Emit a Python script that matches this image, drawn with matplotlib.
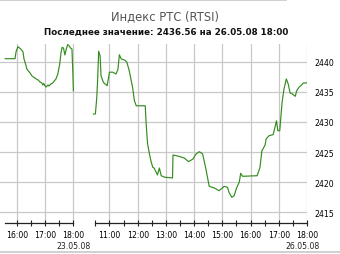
import matplotlib
matplotlib.use('Agg')
import matplotlib.pyplot as plt
from matplotlib.lines import Line2D

# 23.05.08 session
day1_times = ["15:35", "15:56", "15:58", "16:02", "16:08", "16:13", "16:15", "16:19", "16:21",
              "16:28", "16:32", "16:38", "16:45", "16:49", "16:53", "16:55", "16:57", "16:59",
              "17:02", "17:06", "17:08", "17:12", "17:16", "17:23", "17:27", "17:31", "17:34",
              "17:36", "17:39", "17:42", "17:45", "17:48", "17:51", "17:54", "17:57", "17:59", "18:00"]
day1_values = [2440.55, 2440.55, 2441.67, 2442.55, 2442.17, 2441.67, 2440.5, 2439.5, 2438.83,
               2438.17, 2437.67, 2437.33, 2437.0, 2436.67, 2436.5, 2436.17, 2436.42, 2436.08,
               2435.83, 2436.17, 2436.0, 2436.33, 2436.5, 2437.17, 2438.0, 2439.67, 2441.67,
               2442.42, 2442.33, 2441.17, 2442.17, 2442.92, 2442.67, 2442.33, 2442.17, 2438.0, 2435.2]

# 26.05.08 session
day2_times = ["10:26", "10:30", "10:33", "10:35", "10:37", "10:40", "10:42", "10:47", "10:55",
              "11:00", "11:07", "11:14", "11:18", "11:21", "11:25", "11:32", "11:37", "11:42",
              "11:49", "11:53", "11:57", "12:16", "12:18", "12:21", "12:25", "12:28", "12:32",
              "12:35", "12:42", "12:46", "12:50", "12:57", "13:14", "13:15", "13:28", "13:39",
              "13:48", "13:57", "14:04", "14:11", "14:18", "14:25", "14:32", "14:43", "14:53",
              "15:04", "15:11", "15:14", "15:20", "15:25", "15:30", "15:36", "15:39", "15:43",
              "16:14", "16:20", "16:24", "16:27", "16:31", "16:33", "16:39", "16:48", "16:53",
              "16:55", "16:58", "17:02", "17:07", "17:11", "17:16", "17:20", "17:24", "17:29",
              "17:35", "17:38", "17:43", "17:47", "17:52", "17:57", "18:00"]
day2_values = [2431.33, 2431.33, 2434.1, 2437.45, 2441.8, 2441.05, 2437.7, 2436.6, 2436.05,
               2438.3, 2438.3, 2438.0, 2438.8, 2441.2, 2440.5, 2440.33, 2439.95, 2438.55,
               2435.8, 2433.55, 2432.7, 2432.7, 2429.67, 2426.33, 2424.67, 2423.55, 2422.45,
               2422.33, 2421.17, 2422.33, 2421.05, 2420.8, 2420.67, 2424.5, 2424.28, 2424.0,
               2423.4, 2423.8, 2424.67, 2425.05, 2424.67, 2422.17, 2419.28, 2419.0, 2418.55,
               2419.28, 2419.1, 2418.3, 2417.45, 2417.7, 2418.95, 2420.0, 2421.45, 2420.95,
               2421.05, 2422.45, 2425.2, 2425.6, 2426.2, 2427.17, 2427.7, 2427.9, 2429.5,
               2430.2, 2428.55, 2428.55, 2433.3, 2435.5, 2437.17, 2436.33, 2434.83, 2434.67,
               2434.28, 2435.2, 2435.8, 2436.05, 2436.5, 2436.5, 2436.56]

day1_hours = ["16:00", "17:00", "18:00"]
day2_hours = ["11:00", "12:00", "13:00", "14:00", "15:00", "16:00", "17:00", "18:00"]
y_ticks = [2415, 2420, 2425, 2430, 2435, 2440]

GAP = 0.78  # empty stretch between the two sessions on the axis


def hours(s):
    h, m = s.split(":")
    return int(h) + int(m) / 60.0


def pos1(s):
    return hours(s) - 16.0


def pos2(s):
    return 2.0 + GAP + hours(s) - 10.5


fig = plt.figure(figsize=(3.4, 2.55), dpi=100)
ax = fig.add_axes([0.0, 0.1216, 0.903, 0.702])

green = '#338c1e'
ax.plot([pos1(t) for t in day1_times], day1_values, color=green, lw=0.85, zorder=3)
ax.plot([pos2(t) for t in day2_times], day2_values, color=green, lw=0.85, zorder=3)

ax.set_xlim(-0.6, pos2("18:00"))
ax.set_ylim(2413.17, 2443.0)

grid_c = '#c8c8c8'
for yv in y_ticks:
    ax.axhline(yv, color=grid_c, lw=0.9, zorder=1)
hour_pos = [pos1(t) for t in day1_hours] + [pos2(t) for t in day2_hours]
for xv in hour_pos:
    ax.axvline(xv, color=grid_c, lw=0.9, zorder=1)

# baseline with a gap between sessions
y0 = 2413.17
ax.plot([pos1("15:35"), pos1("18:00")], [y0, y0], color='#222222', lw=0.9, clip_on=False, zorder=4)
ax.plot([pos2("10:30"), pos2("18:00")], [y0, y0], color='#222222', lw=0.9, clip_on=False, zorder=4)

half1 = ["16:00", "16:30", "17:00", "17:30", "18:00"]
half2 = ["10:30", "11:00", "11:30", "12:00", "12:30", "13:00", "13:30", "14:00", "14:30",
         "15:00", "15:30", "16:00", "16:30", "17:00", "17:30", "18:00"]
ax.set_xticks([pos1(t) for t in half1] + [pos2(t) for t in half2], minor=True)
ax.set_xticks(hour_pos)
ax.set_xticklabels(day1_hours + day2_hours)
ax.tick_params(axis='x', which='both', direction='inout', length=4.5, width=0.8,
               color='#222222', labelsize=5.6, pad=3)

ax.yaxis.tick_right()
ax.set_yticks(y_ticks)
ax.tick_params(axis='y', length=0, labelsize=5.6, pad=5)

for s in ax.spines.values():
    s.set_visible(False)

ax.text(pos1("18:00"), -0.128, "23.05.08", transform=ax.get_xaxis_transform(),
        ha='center', va='center', fontsize=5.6, color='#222222')
ax.text(pos2("18:00") - 0.15, -0.128, "26.05.08", transform=ax.get_xaxis_transform(),
        ha='center', va='center', fontsize=5.6, color='#222222')

fig.text(0.485, 0.933, "Индекс РТС (RTSI)", ha='center', va='center',
         fontsize=8.3, color='#555555')
fig.text(0.489, 0.8745, "Последнее значение: 2436.56 на 26.05.08 18:00", ha='center', va='center',
         fontsize=6.3, fontweight='bold', color='#111111')

fig.add_artist(Line2D([0, 0.84], [0.996, 0.996], color='#c8c8c8', lw=1.2, transform=fig.transFigure))
fig.add_artist(Line2D([0, 1], [0.008, 0.008], color='#c8c8c8', lw=1.2, transform=fig.transFigure))

fig.savefig('out.png', dpi=100)
